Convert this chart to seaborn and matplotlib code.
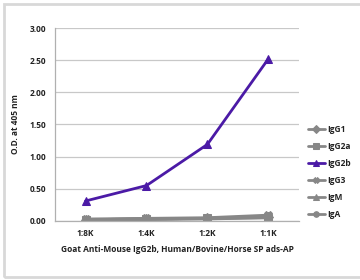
import seaborn as sns
import pandas as pd
import matplotlib.pyplot as plt
from matplotlib.patches import Rectangle

dilutions = ["1:8K", "1:4K", "1:2K", "1:1K"]
series = ["IgG1", "IgG2a", "IgG2b", "IgG3", "IgM", "IgA"]
igg1 = [0.02, 0.03, 0.04, 0.06]
igg2a = [0.02, 0.03, 0.04, 0.05]
igg2b = [0.31, 0.55, 1.19, 2.52]
igg3 = [0.03, 0.04, 0.05, 0.09]
igm = [0.02, 0.03, 0.04, 0.07]
iga = [0.01, 0.02, 0.03, 0.05]

values = [igg1, igg2a, igg2b, igg3, igm, iga]
rows = []
for name, vals in zip(series, values):
    for d, v in zip(dilutions, vals):
        rows.append({"dilution": d, "od": v, "antibody": name})
data = pd.DataFrame(rows)

sns.set_style("white")
plt.rcParams["font.family"] = ["Open Sans", "DejaVu Sans"]

gray = "#878787"
palette = {"IgG1": gray, "IgG2a": gray, "IgG2b": "#4b1aa6",
           "IgG3": gray, "IgM": gray, "IgA": gray}
markers = {"IgG1": "D", "IgG2a": "s", "IgG2b": "^",
           "IgG3": "X", "IgM": "^", "IgA": "o"}

fig = plt.figure(figsize=(3.6, 2.8), dpi=100)
ax = fig.add_axes([0.153, 0.211, 0.677, 0.689])

sns.lineplot(x="dilution", y="od", hue="antibody", style="antibody",
             data=data, palette=palette, markers=markers, dashes=False,
             linewidth=2.0, markersize=5.5, ax=ax, sort=False)
for ln in ax.lines:
    ln.set_markeredgecolor(ln.get_color())

ax.set_xlim(-0.5, 3.5)
ax.set_ylim(0, 3.0)
ax.set_yticks([0, 0.5, 1.0, 1.5, 2.0, 2.5, 3.0])
ax.set_yticklabels(["0.00", "0.50", "1.00", "1.50", "2.00", "2.50", "3.00"])
ax.set_xticks([-0.5, 0.5, 1.5, 2.5, 3.5], minor=True)
ax.tick_params(axis="x", which="major", length=0, pad=6)
ax.tick_params(axis="x", which="minor", length=2.5, color="#b0b0b0", width=0.8)
ax.tick_params(axis="y", length=2.5, color="#b0b0b0", pad=4)
ax.grid(axis="y", color="#c8c8c8", linewidth=0.9)
for lab in ax.get_xticklabels() + ax.get_yticklabels():
    lab.set_fontsize(6)
    lab.set_fontweight("bold")
    lab.set_color("#222222")

for s in ["top", "right"]:
    ax.spines[s].set_visible(False)
for s in ["left", "bottom"]:
    ax.spines[s].set_color("#b0b0b0")
    ax.spines[s].set_linewidth(0.9)

ax.set_xlabel("Goat Anti-Mouse IgG2b, Human/Bovine/Horse SP ads-AP",
              fontsize=6, fontweight="bold", color="#222222", labelpad=5)
ax.set_ylabel("O.D. at 405 nm", fontsize=6, fontweight="bold",
              color="#222222", labelpad=7)

handles, labels = ax.get_legend_handles_labels()
ax.legend_.remove()
for h in handles:
    h.set_markeredgecolor(h.get_color())
    h.set_markersize(4)
leg = fig.legend(handles, labels, loc="upper left",
                 bbox_to_anchor=(0.835, 0.58), frameon=False,
                 fontsize=6, labelspacing=0.95, handlelength=2.0,
                 handletextpad=0.3)
for t in leg.get_texts():
    t.set_fontweight("bold")
    t.set_color("#222222")

fig.patches.append(Rectangle((0.012, 0.012), 1.1, 0.975,
                             transform=fig.transFigure, fill=False,
                             edgecolor="#d8d8d8", linewidth=2.0))

fig.savefig("out.png", dpi=100)
